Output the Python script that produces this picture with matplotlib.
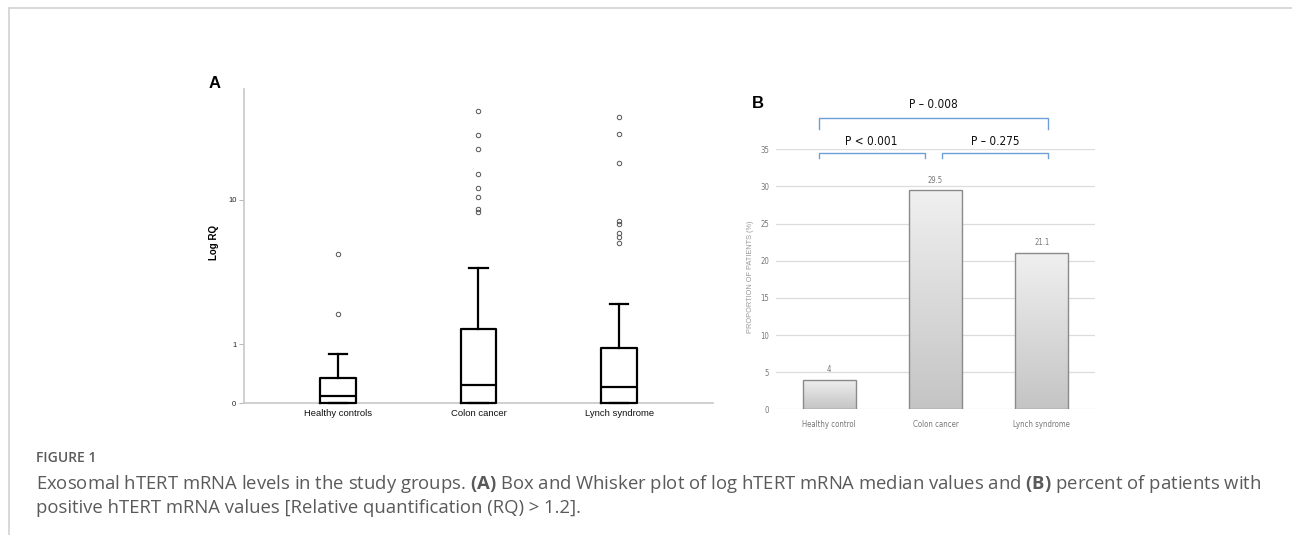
import numpy as np
import matplotlib
matplotlib.use("Agg")
import matplotlib.pyplot as plt
from matplotlib.colors import LinearSegmentedColormap
from matplotlib.lines import Line2D

# panel A: box and whisker stats of log RQ
groups_a = ["Healthy controls", "Colon cancer", "Lynch syndrome"]
q1_a = [0.0, 0.0, 0.0]
med_a = [0.09, 0.23, 0.21]
q3_a = [0.35, 1.40, 0.91]
whislo_a = [0.0, 0.0, 0.0]
whishi_a = [0.78, 3.94, 2.22]
fliers_healthy = [1.86, 4.83]
fliers_colon = [8.5, 8.9, 10.4, 11.6, 13.9, 19.1, 22.7, 30.3]
fliers_lynch = [5.6, 6.1, 6.4, 7.3, 7.6, 15.9, 22.8, 28.4]
ticks_a = [0, 1, 10]

# panel B: percent of patients with RQ > 1.2
groups_b = ["Healthy control", "Colon cancer", "Lynch syndrome"]
pct_b = [4, 29.5, 21.1]
pairs_b = [(0, 1), (1, 2), (0, 2)]
pvals_b = ["P < 0.001", "P \u2013 0.275", "P \u2013 0.008"]
ticks_b = [0, 5, 10, 15, 20, 25, 30, 35]

plt.rcParams['mathtext.fontset'] = 'custom'
plt.rcParams['mathtext.rm'] = 'Open Sans'
plt.rcParams['mathtext.bf'] = 'Open Sans:bold'

fig = plt.figure(figsize=(12.92, 5.35), dpi=100)

# outer frame (top and left only)
fig.add_artist(Line2D([9/1292, 1], [1 - 8/535, 1 - 8/535], color='#d6d6d6', lw=1.3))
fig.add_artist(Line2D([9/1292, 9/1292], [0, 1 - 8/535], color='#d6d6d6', lw=1.3))

# ---------------- panel A ----------------
axA = fig.add_axes([244/1292, 1 - 403/535, 469/1292, 314/535])

stats = []
fl = [fliers_healthy, fliers_colon, fliers_lynch]
for i in range(len(groups_a)):
    stats.append({'med': med_a[i], 'q1': q1_a[i], 'q3': q3_a[i],
                  'whislo': whislo_a[i], 'whishi': whishi_a[i],
                  'fliers': fl[i], 'label': groups_a[i]})

line_kw = dict(color='black', linewidth=1.6)
parts = axA.bxp(stats, positions=[1, 2, 3], widths=0.255, capwidths=0.13,
                boxprops=line_kw, medianprops=line_kw, whiskerprops=line_kw,
                capprops=line_kw,
                flierprops=dict(marker='o', markersize=3.2, markerfacecolor='none',
                                markeredgecolor='#555555', markeredgewidth=0.7))
for key in ['boxes', 'medians', 'whiskers', 'caps']:
    for art in parts[key]:
        art.set_clip_on(False)
        art.set_zorder(3)

axA.set_yscale('function', functions=(lambda y: np.log10(1 + np.clip(y, -0.999, None)),
                                      lambda y: 10 ** y - 1))
axA.set_ylim(0, 39.7)
axA.set_xlim(0.333, 3.667)
axA.set_yticks(ticks_a)
axA.set_yticklabels([str(t) for t in ticks_a])
axA.yaxis.set_minor_locator(matplotlib.ticker.NullLocator())
axA.tick_params(axis='y', length=3.5, width=0.8, color='#bbbbbb', pad=2,
                labelsize=5.5, labelcolor='#222222')
axA.tick_params(axis='x', length=0, pad=4, labelsize=6.8, labelcolor='#111111')
for lab in axA.get_xticklabels() + axA.get_yticklabels():
    lab.set_family('Liberation Sans')
for s in ['top', 'right']:
    axA.spines[s].set_visible(False)
for s in ['left', 'bottom']:
    axA.spines[s].set_color('#c8c8c8')
    axA.spines[s].set_linewidth(1.2)
axA.set_ylabel('Log RQ', fontsize=7, fontweight='bold', family='Liberation Sans')
axA.yaxis.set_label_coords(-0.053, 0.51)
fig.text(215/1292, 1 - 83/535, 'A', fontsize=12, fontweight='bold',
         family='Liberation Sans', ha='center', va='center')

# ---------------- panel B ----------------
narrow = dict(family='DejaVu Sans', stretch='condensed')
axB = fig.add_axes([776/1292, 1 - 409.3/535, 319/1292, 260/535])
xb = np.arange(len(groups_b))
bars = axB.bar(xb, pct_b, width=0.5, facecolor='none', edgecolor='#8a8a8a',
               linewidth=1.0, zorder=3)
cmap = LinearSegmentedColormap.from_list('bargrey', ['#c4c4c4', '#f0f0f0'])
grad = np.linspace(0, 1, 256).reshape(-1, 1)
for b in bars:
    x0 = b.get_x()
    im = axB.imshow(grad, extent=[x0, x0 + b.get_width(), 0, b.get_height()],
                    origin='lower', cmap=cmap, aspect='auto', zorder=2)
    im.set_clip_path(b)
for i, v in enumerate(pct_b):
    axB.text(xb[i], v + 0.7, f'{v:g}', ha='center', va='bottom', fontsize=5.5,
             color='#777777', **narrow)

axB.set_xlim(-0.5, 2.5)
axB.set_ylim(0, 35)
axB.set_yticks(ticks_b)
axB.grid(axis='y', color='#dcdcdc', linewidth=0.9, zorder=0)
axB.set_axisbelow(True)
for s in axB.spines.values():
    s.set_visible(False)
axB.set_xticks(xb)
axB.set_xticklabels(groups_b)
axB.tick_params(axis='both', length=0, labelsize=5.6, labelcolor='#777777')
axB.tick_params(axis='x', pad=8)
axB.tick_params(axis='y', pad=5)
for lab in axB.get_xticklabels() + axB.get_yticklabels():
    lab.set_family(narrow['family'])
    lab.set_stretch(narrow['stretch'])
axB.set_ylabel('PROPORTION OF PATIENTS (%)', fontsize=5.3, color='#999999',
               family='Liberation Sans')
axB.yaxis.set_label_coords(-0.07, 0.509)

# significance brackets
bl = '#6f9fd8'
for (i, j), p in zip(pairs_b, pvals_b):
    lo = xb[i] - 0.10 if i == 0 else xb[i] + 0.06
    hi = xb[j] - 0.10 if j == 1 else xb[j] + 0.06
    if j - i > 1:
        top, leg, ty = 39.2, 1.5, 41.0
    else:
        top, leg, ty = 34.5, 0.7, 36.1
    axB.plot([lo, lo, hi, hi], [top - leg, top, top, top - leg], color=bl,
             lw=1.0, clip_on=False, zorder=4)
    axB.text((lo + hi) / 2, ty, p, ha='center', va='center', fontsize=8.5,
             color='#111111', clip_on=False, **narrow)

fig.text(758/1292, 1 - 103/535, 'B', fontsize=12, fontweight='bold',
         family='Liberation Sans', ha='center', va='center')

# ---------------- caption ----------------
cap_col = '#5a5a5a'
fig.text(36/1292, 1 - 458/535, 'FIGURE 1', fontsize=10, fontweight='semibold',
         family='Open Sans', color=cap_col, va='center')
fig.text(36/1292, 1 - 484/535,
         r'Exosomal hTERT mRNA levels in the study groups. $\mathbf{(A)}$ Box and Whisker plot '
         r'of log hTERT mRNA median values and $\mathbf{(B)}$ percent of patients with',
         fontsize=13.3, family='Open Sans', color=cap_col, va='center')
fig.text(36/1292, 1 - 508/535,
         'positive hTERT mRNA values [Relative quantification (RQ) > 1.2].',
         fontsize=13.3, family='Open Sans', color=cap_col, va='center')

fig.savefig('out.png', dpi=100)
